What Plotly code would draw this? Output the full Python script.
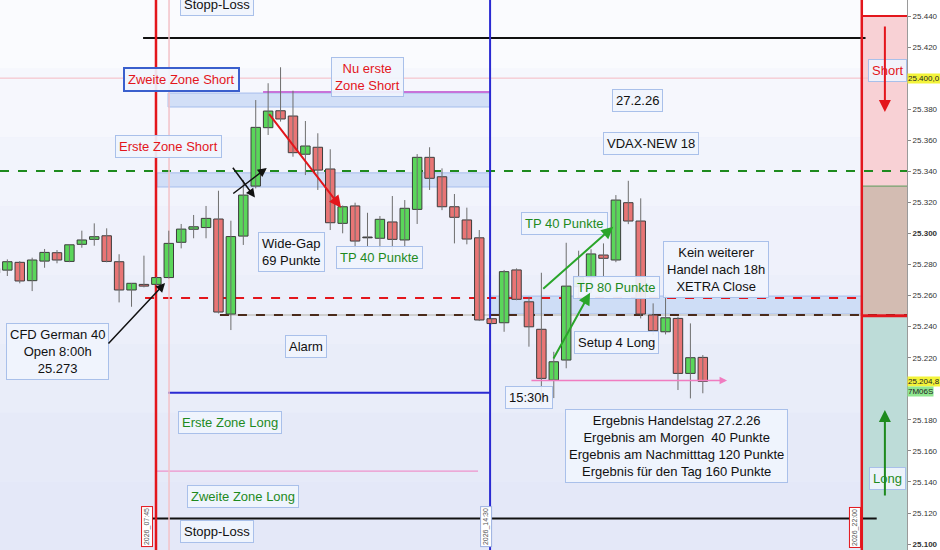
import plotly.graph_objects as go

# 15-min candles, index 0 = first full candle on the left
candle_idx = list(range(-1, 57))
opens = [25274.5, 25276.4, 25281.4, 25269.6, 25282.2, 25287.6, 25282.0, 25293.0, 25296.2, 25298.5,
         25281.8, 25263.6, 25267.2, 25267.2, 25271.6, 25294.3, 25302.7, 25303.8, 25309.3, 25248.1,
         25298.3, 25330.5, 25368.1, 25379.0, 25375.6, 25351.0, 25355.5, 25341.5, 25306.5, 25317.7,
         25297.6, 25296.9, 25307.4, 25295.8, 25315.5, 25349.0, 25336.5, 25317.2, 25308.7, 25297.2,
         25245.1, 25242.5, 25276.5, 25256.0, 25238.3, 25205.6, 25218.5, 25265.7, 25271.7, 25286.1,
         25282.9, 25319.8, 25308.0, 25247.5, 25236.7, 25245.3, 25209.9, 25220.2]
highs = [25279.0, 25283.3, 25282.2, 25284.4, 25290.0, 25289.3, 25293.0, 25301.8, 25306.5, 25303.3,
         25286.6, 25268.0, 25285.7, 25272.0, 25301.8, 25306.1, 25311.9, 25317.7, 25327.5, 25308.2,
         25334.4, 25385.9, 25396.7, 25407.0, 25391.9, 25372.4, 25364.5, 25354.2, 25318.0, 25319.8,
         25313.3, 25311.2, 25324.1, 25321.5, 25351.1, 25355.5, 25341.9, 25325.4, 25316.6, 25302.2,
         25245.5, 25276.5, 25277.5, 25259.2, 25274.7, 25223.8, 25294.0, 25288.9, 25289.8, 25293.6,
         25324.7, 25333.9, 25322.6, 25255.0, 25260.4, 25246.4, 25242.1, 25221.7]
lows = [25273.0, 25272.6, 25267.9, 25262.9, 25277.9, 25280.8, 25281.5, 25290.8, 25292.1, 25281.4,
        25255.6, 25252.8, 25265.3, 25266.5, 25271.0, 25290.4, 25296.9, 25296.9, 25248.5, 25237.8,
        25292.6, 25329.0, 25363.4, 25372.0, 25349.4, 25337.6, 25328.0, 25302.2, 25300.1, 25287.2,
        25291.5, 25285.0, 25286.1, 25291.1, 25306.1, 25328.0, 25315.0, 25293.6, 25293.0, 25243.6,
        25241.5, 25236.7, 25257.0, 25227.1, 25190.0, 25194.0, 25213.2, 25259.1, 25261.5, 25271.7,
        25281.5, 25306.0, 25245.3, 25234.6, 25235.0, 25199.2, 25193.8, 25197.1]
closes = [25277.5, 25281.8, 25269.4, 25282.9, 25287.8, 25282.9, 25292.7, 25295.8, 25297.9, 25282.0,
          25263.6, 25267.9, 25266.1, 25271.6, 25293.6, 25302.8, 25304.3, 25309.7, 25249.4, 25298.0,
          25324.7, 25368.3, 25378.8, 25373.7, 25352.0, 25356.3, 25340.8, 25306.9, 25317.2, 25295.1,
          25297.2, 25309.1, 25296.2, 25316.2, 25349.0, 25335.5, 25317.2, 25310.4, 25296.4, 25244.3,
          25242.0, 25275.4, 25257.6, 25239.9, 25206.7, 25217.4, 25266.1, 25271.7, 25286.8, 25284.0,
          25321.5, 25308.0, 25248.1, 25237.4, 25245.7, 25209.9, 25220.0, 25204.8]

# price levels
stop_high, stop_low = 25425.8, 25116.4
level_25400 = 25400.0
nu_erste_short = 25391.1
zweite_short_band = (25381.4, 25390.4)
erste_short_line = 25340.2
erste_short_band = (25329.9, 25339.0)
open_line = 25258.4
long_band = (25248.1, 25259.7)
xetra_close = 25247.5
erste_long = 25197.5
zweite_long = 25147.0
last_price = 25204.8
zone_short_top, zone_mid_top, zone_long_top = 25440.0, 25330.5, 25247.0

# time markers (candle index)
t_0745, t_0800, t_1430, t_2200 = 11.97, 13.02, 38.87, 68.8

tick_vals = [25100 + 20 * k for k in range(18)]
tick_text = []
for v in tick_vals:
    s = f"{v // 1000}.{v % 1000:03d}"
    if v in (25200, 25400):
        s = ""  # covered by the price tags
    tick_text.append(f"<b>{s}</b>" if v in (25100, 25300) else s)

X0, X1 = -0.59, 72.44
Y0, Y1 = 25096.2, 25450.3

RED = "#e3161c"
GREEN = "#1e8a1e"
BLUE = "#2a2ad2"
PINK = "#f07cc0"
FONT = "Liberation Sans, Arial"

shapes = []

# soft vertical gradient background
grad = ["#fafbfe", "#f6f7fd", "#f2f4fc", "#eff1fb", "#eceffa", "#e9edf9", "#e6eaf8", "#e4e8f8"]
step = (Y1 - Y0) / len(grad)
for k, c in enumerate(grad):
    shapes.append(dict(type="rect", x0=X0, x1=t_2200, y0=Y1 - (k + 1) * step, y1=Y1 - k * step,
                       fillcolor=c, line_width=0, layer="below"))

# right-hand zone column
shapes += [
    dict(type="rect", x0=t_2200, x1=X1, y0=zone_short_top, y1=Y1, fillcolor="white", line_width=0, layer="below"),
    dict(type="rect", x0=t_2200, x1=X1, y0=zone_mid_top, y1=zone_short_top, fillcolor="#f8d1d5", line_width=0, layer="below"),
    dict(type="rect", x0=t_2200, x1=X1, y0=zone_long_top, y1=zone_mid_top, fillcolor="#d3bcb2", line_width=0, layer="below"),
    dict(type="rect", x0=t_2200, x1=X1, y0=Y0, y1=zone_long_top, fillcolor="#bddcd8", line_width=0, layer="below"),
]


def hline(x0, x1, y, color, width=1, dash="solid", layer="below"):
    return dict(type="line", x0=x0, x1=x1, y0=y, y1=y, line=dict(color=color, width=width, dash=dash), layer=layer)


def vline(x, color, width=1):
    return dict(type="line", x0=x, x1=x, y0=Y0, y1=Y1, line=dict(color=color, width=width), layer="below")


def band(x0, x1, ys, color="rgba(190,210,245,0.65)"):
    return dict(type="rect", x0=x0, x1=x1, y0=ys[0], y1=ys[1], fillcolor=color,
                line=dict(color="rgba(160,185,235,0.9)", width=1), layer="below")


shapes += [
    band(12.94, t_1430, zweite_short_band),
    band(12.05, t_1430, erste_short_band),
    band(t_1430, t_2200, long_band),
    hline(X0, X1, level_25400, "#f5b9c2", 1),
    hline(20.59, t_1430, nu_erste_short, "#c872d8", 2),
    hline(X0, X1, erste_short_line, GREEN, 2, "dash"),
    hline(11.09, t_2200, open_line, RED, 2, "dash"),
    hline(17.12, X1, xetra_close, "#d0d0d0", 2),
    hline(17.12, X1, xetra_close, "#4a2a1a", 2, "dash"),
    hline(12.94, t_1430, erste_long, BLUE, 2),
    hline(12.05, 37.9, zweite_long, PINK, 1),
    hline(10.93, 69.1, stop_high, "#111111", 2),
    hline(10.93, 70.0, stop_low, "#111111", 2),
    hline(t_2200, X1, zone_short_top, RED, 2),
    hline(t_2200, X1, zone_long_top, RED, 3),
    hline(t_2200, X1, zone_mid_top, "#5c9c5c", 1),
    vline(t_0745, RED, 2.5),
    vline(t_0800, "#f3c2c8", 1.5),
    vline(t_1430, BLUE, 2),
    vline(t_2200, RED, 2.5),
]

fig = go.Figure()

# wicks
wx, wy = [], []
for i, h, l in zip(candle_idx, highs, lows):
    wx += [i, i, None]
    wy += [l, h, None]
fig.add_trace(go.Scatter(x=wx, y=wy, mode="lines", line=dict(color="#6e6e6e", width=1),
                         showlegend=False, hoverinfo="skip"))

# bodies
bases, heights, colors = [], [], []
for o, c in zip(opens, closes):
    bases.append(min(o, c))
    heights.append(max(abs(c - o), 0.5))
    if abs(c - o) < 1:
        colors.append("#444444")
    elif c > o:
        colors.append("#5ad65a")
    else:
        colors.append("#e87575")
fig.add_trace(go.Bar(x=candle_idx, y=heights, base=bases, width=0.76,
                     marker=dict(color=colors, line=dict(color="#3c3c3c", width=1)),
                     showlegend=False, hoverinfo="skip"))

anns = []


def box(x, y, text, color="#111111", border="#a9c0ea", bw=1, size=13):
    anns.append(dict(x=x, y=y, text=text, showarrow=False, xanchor="center", yanchor="middle",
                     font=dict(color=color, size=size, family=FONT),
                     bgcolor="rgba(240,244,253,0.92)", bordercolor=border, borderwidth=bw, borderpad=3))


def arrow(x0, y0, x1, y1, color, width=1.5, head=2, size=1.2):
    anns.append(dict(x=x1, y=y1, ax=x0, ay=y0, xref="x", yref="y", axref="x", ayref="y", text="",
                     showarrow=True, arrowhead=head, arrowsize=size, arrowwidth=width, arrowcolor=color))


box(16.88, 25447.2, "Stopp-Loss")
box(14.0, 25398.8, "Zweite Zone Short", RED, "#3a5fcd", 2)
box(28.96, 25400.7, "Nu erste<br>Zone Short", RED)
box(50.78, 25385.3, "27.2.26")
box(51.83, 25357.6, "VDAX-NEW 18")
box(12.94, 25356.3, "Erste Zone Short", RED)
box(22.92, 25288.0, "Wide-Gap<br>69 Punkte")
box(29.93, 25284.2, "TP 40 Punkte", GREEN)
box(44.9, 25306.7, "TP 40 Punkte", GREEN)
box(57.06, 25276.5, "Kein weiterer<br>Handel nach 18h<br>XETRA Close")
box(49.01, 25265.5, "TP 80 Punkte", GREEN)
box(49.01, 25230.1, "Setup 4 Long")
box(4.0, 25224.3, "CFD German 40<br>Open 8:00h<br>25.273")
box(24.05, 25226.9, "Alarm")
box(42.0, 25194.7, "15:30h")
box(53.92, 25163.1, "Ergebnis Handelstag 27.2.26<br>Ergebnis am Morgen  40 Punkte<br>"
                    "Ergebnis am Nachmitttag 120 Punkte<br>Ergebnis für den Tag 160 Punkte")
box(17.93, 25178.0, "Erste Zone Long", GREEN)
box(18.95, 25130.9, "Zweite Zone Long", GREEN)
box(16.88, 25108.3, "Stopp-Loss")
box(70.83, 25404.6, "Short", RED)
box(70.83, 25142.5, "Long", GREEN)

arrow(20.99, 25377.8, 26.87, 25316.6, RED, 2)
arrow(18.07, 25343.3, 19.94, 25323.1, "#111111", 1.5)
arrow(18.07, 25325.0, 20.89, 25342.2, "#111111", 1.5)
arrow(8.03, 25228.2, 12.70, 25268.1, "#111111", 1.5)
arrow(43.03, 25263.6, 48.79, 25304.3, "#2aa52a", 2)
arrow(43.91, 25218.5, 46.92, 25261.8, "#2aa52a", 2)
arrow(42.08, 25205.3, 57.95, 25205.3, PINK, 1.5, 2, 1)
arrow(70.66, 25434.2, 70.66, 25378.2, RED, 2)
arrow(70.66, 25130.3, 70.66, 25186.3, GREEN, 2)

# time stamps at the bottom
for tx, label, bc in [(11.25, "2026_07:45", RED), (38.55, "2026_14:30", "#9bb0e0"), (68.25, "2026_22:00", RED)]:
    anns.append(dict(x=tx, y=25111, text=label, showarrow=False, textangle=-90,
                     font=dict(size=7, color="#555555", family=FONT),
                     bgcolor="white", bordercolor=bc, borderwidth=1, borderpad=1))

# price tags on the axis
for py, label, bg in [(level_25400, "25.400,0", "#f3f33a"), (last_price, "25.204,8", "#f3f33a"),
                      (last_price - 6.5, "7M06S", "#8fe68f")]:
    anns.append(dict(xref="paper", x=1.0, y=py, text=label, showarrow=False, xanchor="left",
                     font=dict(size=8, color="#222222", family=FONT),
                     bgcolor=bg, borderpad=0))

fig.update_layout(
    width=940, height=550,
    margin=dict(l=0, r=33, t=0, b=0),
    paper_bgcolor="white", plot_bgcolor="#eceffa",
    shapes=shapes, annotations=anns, barmode="overlay",
    xaxis=dict(range=[X0, X1], showgrid=False, zeroline=False, showticklabels=False, fixedrange=True),
    yaxis=dict(range=[Y0, Y1], side="right", showgrid=False, zeroline=False,
               tickvals=tick_vals, ticktext=tick_text, ticks="outside", ticklen=3,
               tickcolor="#888888", showline=True, linecolor="#9a9a9a",
               tickfont=dict(size=8, color="#333333", family=FONT)),
    font=dict(family=FONT),
    hovermode=False,
)

fig.write_html("out.html", config={"displayModeBar": False},
               post_script="document.body.style.margin='0px';")
